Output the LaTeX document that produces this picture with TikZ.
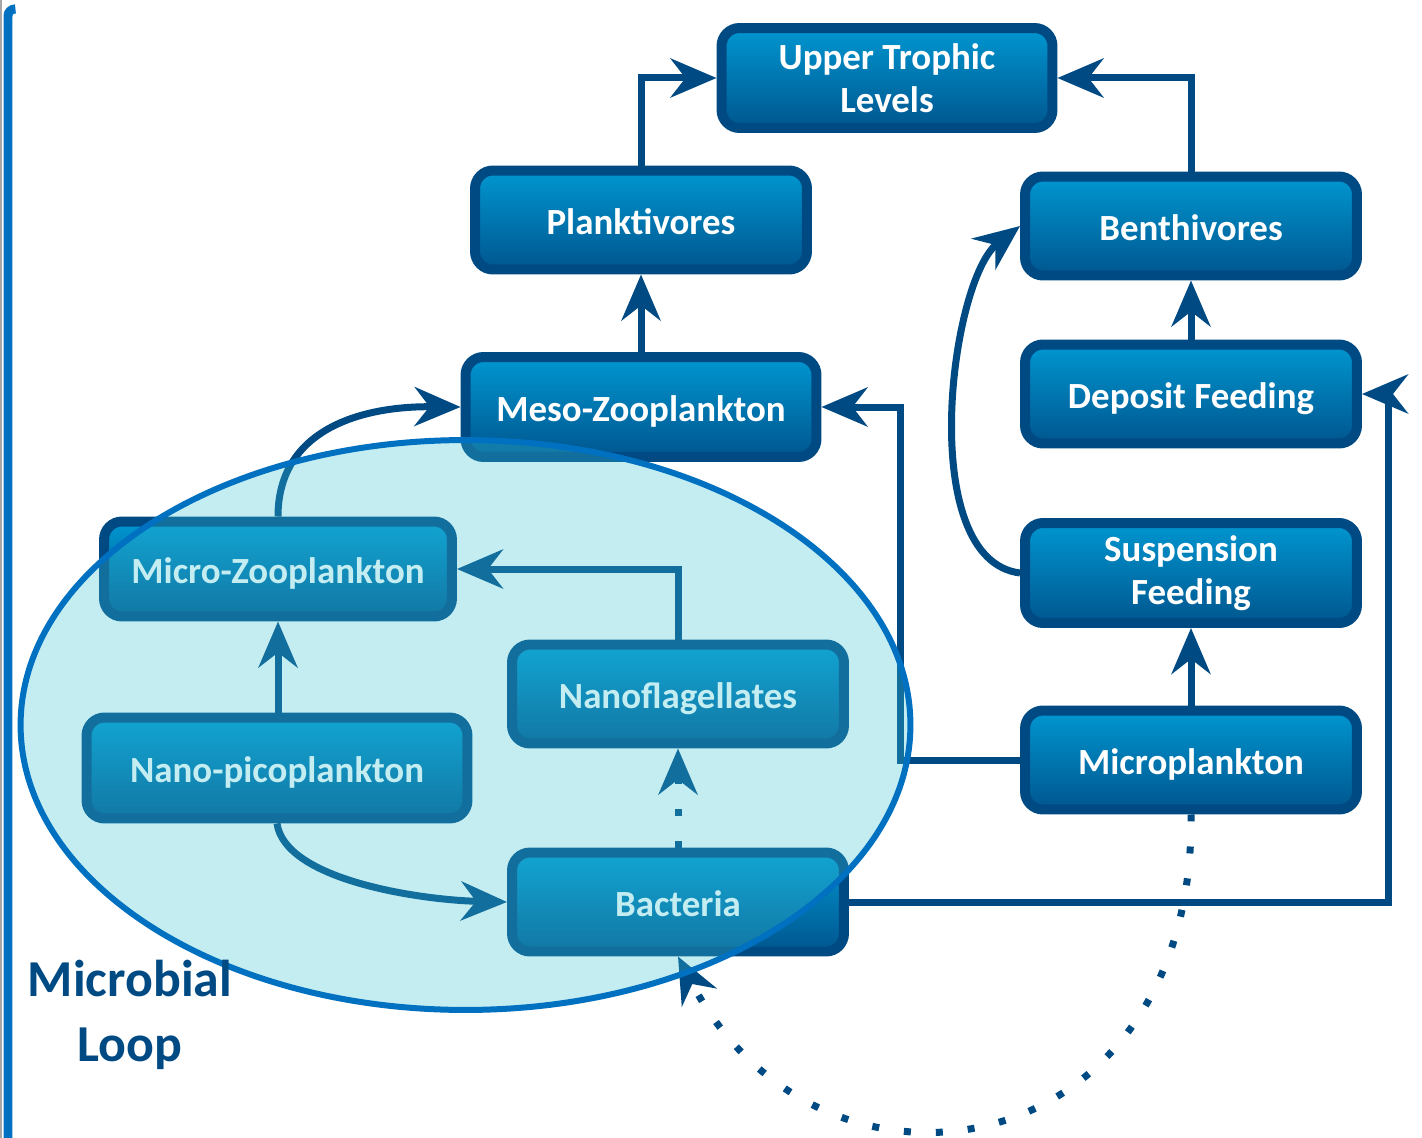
\documentclass[tikz,border=0pt]{standalone}
\usepackage{fontspec}
\setmainfont{Carlito}
\usetikzlibrary{arrows.meta,shadows}
\definecolor{dk}{HTML}{004A84}
\definecolor{btop}{HTML}{0096D0}
\definecolor{bbot}{HTML}{00568F}
\definecolor{ellline}{HTML}{0070C0}
\definecolor{ellfill}{RGB}{62,198,215}
\tikzset{
  box/.style={rounded corners=0.36cm, draw=dk, line width=0.2cm, top color=btop, bottom color=bbot,
    inner sep=0pt, minimum width=6.64cm, minimum height=1.98cm, align=center, text=white,
    font=\fontsize{21}{24.5}\selectfont\bfseries,
    drop shadow={shadow xshift=0.06cm, shadow yshift=-0.08cm, opacity=0.35, fill=black}},
  oneline/.style={text height=16pt, text depth=0pt},
  arr/.style={draw=dk, line width=0.14cm, -{Stealth[length=0.92cm,width=0.78cm,inset=0.3cm]}},
  dotarr/.style={arr, dash pattern=on 0.14cm off 0.5cm},
}
\begin{document}
\begin{tikzpicture}[x=0.02cm, y=-0.02cm]
\useasboundingbox (0,0) rectangle (1422,1138);
\clip (0,0) rectangle (1422,1138);
\fill[white] (0,0) rectangle (1422,1138);
% left frame
\draw[line width=0.04cm, black!35] (0.8,0) -- (0.8,1138);
\draw[line width=0.18cm, ellline, rounded corners=0.14cm] (8,1145) -- (8,9) -- (14,9);

% boxes
\node[box, minimum width=6.62cm, minimum height=2.0cm] (upper) at (887,78) {Upper Trophic\\Levels};
\node[box, oneline] (plank) at (641,220) {Planktivores};
\node[box, oneline] (benth) at (1191,226) {Benthivores};
\node[box, oneline, minimum width=7.02cm, minimum height=2.0cm] (meso) at (641,407) {Meso-Zooplankton};
\node[box, oneline] (deposit) at (1191,394) {Deposit Feeding};
\node[box, oneline, minimum width=6.96cm, minimum height=1.9cm] (microzoo) at (278,569) {Micro-Zooplankton};
\node[box, minimum height=2.0cm] (susp) at (1191,573) {Suspension\\Feeding};
\node[box, oneline] (nanofl) at (678,694) {Nanoflagellates};
\node[box, oneline, minimum width=7.62cm, minimum height=2.02cm] (nanopico) at (277,768) {Nano-picoplankton};
\node[box, oneline] (micropl) at (1191,760) {Microplankton};
\node[box, oneline] (bact) at (678,902) {Bacteria};

% connectors
\draw[arr] (plank.north) |- (upper.west);
\draw[arr] (benth.north) |- (upper.east);
\draw[arr] (meso.north) -- (plank.south);
\draw[arr] (deposit.north) -- (benth.south);
\draw[arr] (susp.west) .. controls (915,560) and (950,280) .. (benth.west);
\draw[arr] (micropl.north) -- (susp.south);
\draw[arr] (micropl.west) -- (900,760) |- (meso.east);
\draw[arr] (bact.east) -- (1388,902) |- (deposit.east);
\draw[arr] (microzoo.north) .. controls (278,430) and (360,406) .. (meso.west);
\draw[arr] (microzoo.south |- nanopico.north) -- (microzoo.south);
\draw[arr] (nanofl.north) |- (microzoo.east);
\draw[arr] (nanopico.south) .. controls (285,880) and (420,900) .. (bact.west);
\draw[dotarr] (bact.north) -- (nanofl.south);
\draw[dotarr] (micropl.south) .. controls (1195,1170) and (820,1230) .. (bact.south);

% microbial loop ellipse (overlay)
\draw[fill=ellfill, fill opacity=0.3, draw=ellline, line width=0.12cm] (465.5,725) ellipse [x radius=8.9cm, y radius=5.7cm];

\node[text=dk, align=center, font=\fontsize{29.5}{36.8}\selectfont\bfseries] (loop) at (130,1015) {Microbial\\Loop};
\end{tikzpicture}
\end{document}
